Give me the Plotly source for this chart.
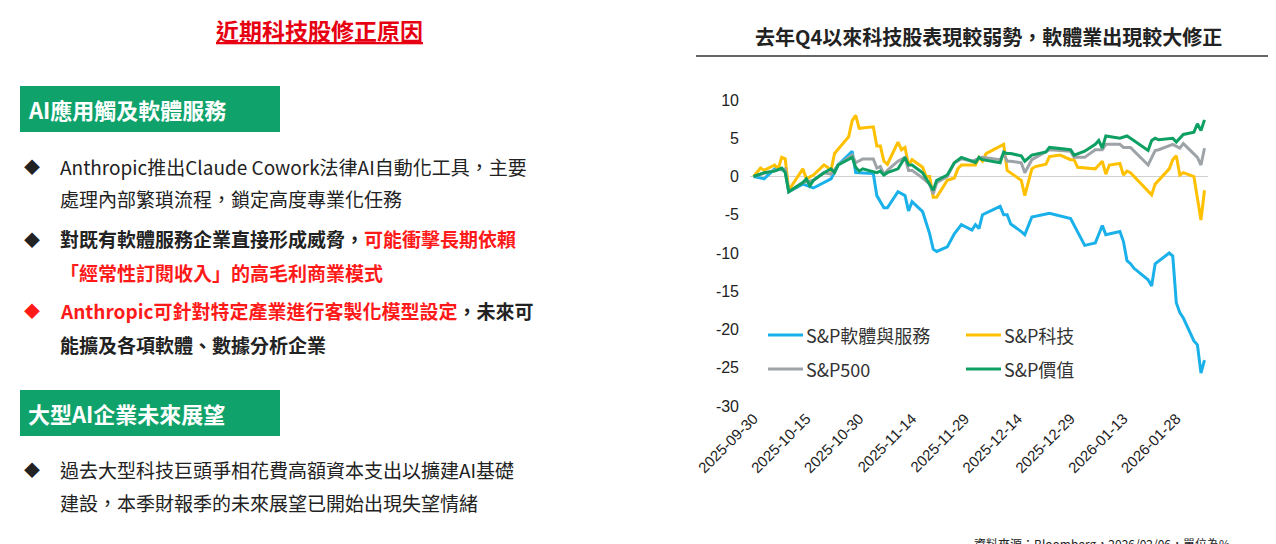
import plotly.graph_objects as go

W, H = 1276, 544
FONT = "Noto Sans CJK TC"

sw_dates = ["2025-09-30","2025-10-03","2025-10-06","2025-10-09","2025-10-10","2025-10-14","2025-10-17","2025-10-20","2025-10-22","2025-10-24","2025-10-28","2025-10-29","2025-11-03","2025-11-04","2025-11-06","2025-11-07","2025-11-10","2025-11-12","2025-11-13","2025-11-14","2025-11-17","2025-11-19","2025-11-20","2025-11-21","2025-11-24","2025-11-26","2025-11-28","2025-12-01","2025-12-02","2025-12-03","2025-12-04","2025-12-09","2025-12-10","2025-12-11","2025-12-12","2025-12-15","2025-12-16","2025-12-18","2025-12-23","2025-12-29","2026-01-02","2026-01-05","2026-01-07","2026-01-08","2026-01-12","2026-01-13","2026-01-14","2026-01-15","2026-01-16","2026-01-20","2026-01-21","2026-01-22","2026-01-26","2026-01-27","2026-01-28","2026-01-29","2026-01-30","2026-02-02","2026-02-03","2026-02-04","2026-02-05"]
sw_vals = [0,-0.3,1.0,0.8,-2,-1,-1.5,-0.8,-0.3,1.5,3.3,0.5,0.4,-2.5,-4.1,-4.1,-2.0,-2.5,-4.5,-3.3,-4.6,-7.5,-9.5,-9.8,-9.2,-7.5,-6.3,-7,-6.3,-6.8,-5,-3.9,-5,-5,-6.2,-7.2,-7.6,-5.3,-4.8,-5.5,-9,-8.7,-6.4,-7.6,-7.2,-8.5,-11,-11.4,-12,-13.5,-14.3,-11.4,-10,-10.4,-16.5,-17.8,-18.5,-21.5,-22,-25.7,-24]

spx_dates = ["2025-09-30","2025-10-06","2025-10-09","2025-10-10","2025-10-14","2025-10-17","2025-10-20","2025-10-22","2025-10-24","2025-10-28","2025-10-29","2025-10-31","2025-11-03","2025-11-04","2025-11-05","2025-11-06","2025-11-07","2025-11-10","2025-11-12","2025-11-13","2025-11-14","2025-11-17","2025-11-19","2025-11-20","2025-11-21","2025-11-24","2025-11-26","2025-11-28","2025-12-01","2025-12-02","2025-12-04","2025-12-09","2025-12-10","2025-12-11","2025-12-12","2025-12-15","2025-12-16","2025-12-18","2025-12-23","2025-12-29","2025-12-30","2026-01-02","2026-01-05","2026-01-07","2026-01-08","2026-01-12","2026-01-13","2026-01-15","2026-01-20","2026-01-22","2026-01-23","2026-01-27","2026-01-29","2026-01-30","2026-02-02","2026-02-03","2026-02-04","2026-02-05"]
spx_vals = [0,0.8,1,-2,-0.8,-0.5,0.5,0.3,1.5,2.8,1.8,2.3,2.3,1.1,1.3,0.3,0.8,2,2.5,0.8,0.8,-0.2,-1,-2.3,-0.8,0,1.8,2.3,2,2.2,2.5,2.2,3,2,2,1.8,0.5,2.2,3.5,3.3,2.5,2.5,3.5,3.5,4.2,4.2,3.8,3.8,1.5,3.4,3.5,4.2,3.7,4.3,3,2.5,1.5,3.7]

tech_dates = ["2025-09-30","2025-10-02","2025-10-03","2025-10-06","2025-10-07","2025-10-08","2025-10-09","2025-10-10","2025-10-14","2025-10-15","2025-10-17","2025-10-20","2025-10-21","2025-10-22","2025-10-23","2025-10-27","2025-10-28","2025-10-29","2025-10-30","2025-11-03","2025-11-04","2025-11-05","2025-11-06","2025-11-07","2025-11-10","2025-11-11","2025-11-12","2025-11-13","2025-11-14","2025-11-17","2025-11-18","2025-11-19","2025-11-20","2025-11-21","2025-11-24","2025-11-26","2025-11-27","2025-11-28","2025-12-01","2025-12-02","2025-12-03","2025-12-04","2025-12-05","2025-12-09","2025-12-10","2025-12-11","2025-12-12","2025-12-15","2025-12-16","2025-12-18","2025-12-19","2025-12-22","2025-12-23","2025-12-26","2025-12-29","2025-12-30","2025-12-31","2026-01-02","2026-01-05","2026-01-07","2026-01-08","2026-01-09","2026-01-12","2026-01-13","2026-01-14","2026-01-15","2026-01-21","2026-01-22","2026-01-26","2026-01-27","2026-01-28","2026-01-29","2026-01-30","2026-02-02","2026-02-04","2026-02-05"]
tech_vals = [0,1.1,0.8,1.5,1,2.5,2.3,-1.8,1,-0.3,0.2,1.5,1.2,0.8,3,5.2,7.3,8.0,6.3,6.5,4,4,2,1.6,4.5,3.5,3.8,1.5,2.2,1.2,0,0,-2.7,-2.7,-0.5,-0.2,1,1.5,1.5,1.5,2.5,2,3,4,4.2,0.8,0.5,-0.5,-2.5,1,1.3,1.6,2.6,2.8,2.2,2.2,1.2,1.1,1,2,0.3,1.5,1.7,0.2,0.7,0.5,-2.4,-1,1,2.2,2.7,0.2,0.5,0,-5.7,-1.8]

val_dates = ["2025-09-30","2025-10-03","2025-10-06","2025-10-08","2025-10-09","2025-10-10","2025-10-14","2025-10-15","2025-10-16","2025-10-17","2025-10-20","2025-10-22","2025-10-23","2025-10-24","2025-10-28","2025-10-29","2025-10-30","2025-10-31","2025-11-04","2025-11-05","2025-11-06","2025-11-07","2025-11-10","2025-11-12","2025-11-13","2025-11-14","2025-11-17","2025-11-19","2025-11-20","2025-11-21","2025-11-24","2025-11-26","2025-11-28","2025-12-01","2025-12-02","2025-12-03","2025-12-04","2025-12-09","2025-12-10","2025-12-11","2025-12-12","2025-12-15","2025-12-16","2025-12-18","2025-12-22","2025-12-23","2025-12-29","2025-12-30","2026-01-02","2026-01-05","2026-01-06","2026-01-07","2026-01-08","2026-01-12","2026-01-13","2026-01-14","2026-01-15","2026-01-20","2026-01-21","2026-01-22","2026-01-23","2026-01-27","2026-01-28","2026-01-29","2026-01-30","2026-02-02","2026-02-03","2026-02-04","2026-02-05"]
val_vals = [0,0.5,0.7,1.1,0.5,-2,-0.8,-0.3,-1.2,-0.5,0.5,1,0.5,1.5,2.5,1.2,0.7,1.0,0.5,0.7,0.2,0.5,1.0,2.5,1.5,1.5,0.5,-1,-1.8,-0.5,0.2,1.8,2.5,2,1.8,2.5,2.2,1.8,3.2,3,3,2.7,2,2.8,3.2,3.8,3.5,2.8,3.3,4.2,4.7,3.7,5.3,5,5.2,5.3,5.0,3.4,4.7,5,4.8,5,4.5,5,5.5,5.8,6.9,6.0,7.4]

tick_dates = ["2025-09-30","2025-10-15","2025-10-30","2025-11-14","2025-11-29","2025-12-14","2025-12-29","2026-01-13","2026-01-28"]
y_ticks = [10,5,0,-5,-10,-15,-20,-25,-30]
y_tick_text = ["10","5","0","-5","-10","-15","-20","-25","-30"]

series = [("S&P軟體與服務", sw_dates, sw_vals, "#1AB0EA"),
          ("S&P科技", tech_dates, tech_vals, "#FFC000"),
          ("S&P500", spx_dates, spx_vals, "#9EA3A8"),
          ("S&P價值", val_dates, val_vals, "#0E9F62")]

fig = go.Figure()
for name, d, v, c in series:
    fig.add_trace(go.Scatter(x=d, y=v, mode="lines", name=name, line=dict(color=c, width=3), showlegend=False))

def px(x): return x / W
def py(y): return 1 - y / H

fig.update_layout(
    width=W, height=H, margin=dict(l=0, r=0, t=0, b=0, autoexpand=False),
    paper_bgcolor="white", plot_bgcolor="white", showlegend=False,
    font=dict(family=FONT, color="#222"),
    xaxis=dict(domain=[px(742), px(1200)], type="date", range=["2025-09-29", "2026-02-06"],
               tickvals=tick_dates, ticktext=tick_dates, tickangle=-45, showgrid=False,
               showline=False, ticks="", automargin=False,
               tickfont=dict(size=15, family="Liberation Sans", color="#222")),
    yaxis=dict(domain=[py(398), py(92)], range=[-30, 10], tickvals=y_ticks, ticktext=y_tick_text,
               showgrid=False, automargin=False,
               zeroline=True, zerolinecolor="#D0D0D0", zerolinewidth=1,
               tickfont=dict(size=16, family="Liberation Sans", color="#222"), ticklabelstandoff=10),
)

ann = []
def text(x, y, s, size=19, color="#222", xanchor="left", bold=False):
    if bold: s = "<b>" + s + "</b>"
    ann.append(dict(x=px(x), y=py(y), xref="paper", yref="paper", text=s, showarrow=False,
                    xanchor=xanchor, yanchor="middle", font=dict(size=size, color=color, family=FONT)))

shapes = []
# manual legend
leg_pos = [(760, 327), (958, 327), (760, 361), (958, 361)]
for (name, _, _, c), (lx, ly) in zip(series, leg_pos):
    shapes.append(dict(type="line", xref="paper", yref="paper", x0=px(lx), x1=px(lx + 35),
                       y0=py(ly), y1=py(ly), line=dict(color=c, width=3)))
    text(lx + 36, ly, name, size=18, color="#333")

# right title
text(980, 28, "去年Q4以來科技股表現較弱勢，軟體業出現較大修正", size=20, xanchor="center", bold=True)
shapes.append(dict(type="line", xref="paper", yref="paper", x0=px(688), x1=px(1274), y0=py(48), y1=py(48),
                   line=dict(color="#333", width=1.5)))
text(1224, 535, "資料來源：Bloomberg，2026/02/06，單位為%", size=12, xanchor="right")

# left title
text(311, 22, "<u>近期科技股修正原因</u>", size=23, color="#E60012", xanchor="center", bold=True)

for (y0, y1, label) in [(78, 124, "AI應用觸及軟體服務"), (382, 428, "大型AI企業未來展望")]:
    shapes.append(dict(type="rect", xref="paper", yref="paper", x0=px(12), x1=px(272), y0=py(y1), y1=py(y0),
                       fillcolor="#0FA36B", line=dict(width=0), layer="below"))
    text(18, (y0 + y1) / 2, label, size=22, color="white", bold=True)

RED = "#FF1A1A"
bullets = [
    (158, "◆", "#222", "Anthropic推出Claude Cowork法律AI自動化工具，主要", False),
    (190, "", "#222", "處理內部繁瑣流程，鎖定高度專業化任務", False),
    (231, "◆", "#222", "對既有軟體服務企業直接形成威脅，<span style='color:%s'>可能衝擊長期依賴</span>" % RED, True),
    (264, "", "#222", "<span style='color:%s'>「經常性訂閱收入」的高毛利商業模式</span>" % RED, True),
    (302, "◆", RED, "<span style='color:%s'>Anthropic可針對特定產業進行客製化模型設定</span>，未來可" % RED, True),
    (336, "", "#222", "能擴及各項軟體、數據分析企業", True),
    (461, "◆", "#222", "過去大型科技巨頭爭相花費高額資本支出以擴建AI基礎", False),
    (494, "", "#222", "建設，本季財報季的未來展望已開始出現失望情緒", False),
]
for y, b, bc, s, bold in bullets:
    if b:
        text(14, y, b, size=16, color=bc)
    text(50, y, s, size=19, bold=bold)

fig.update_layout(annotations=ann, shapes=shapes)
fig.write_html("out.html")
